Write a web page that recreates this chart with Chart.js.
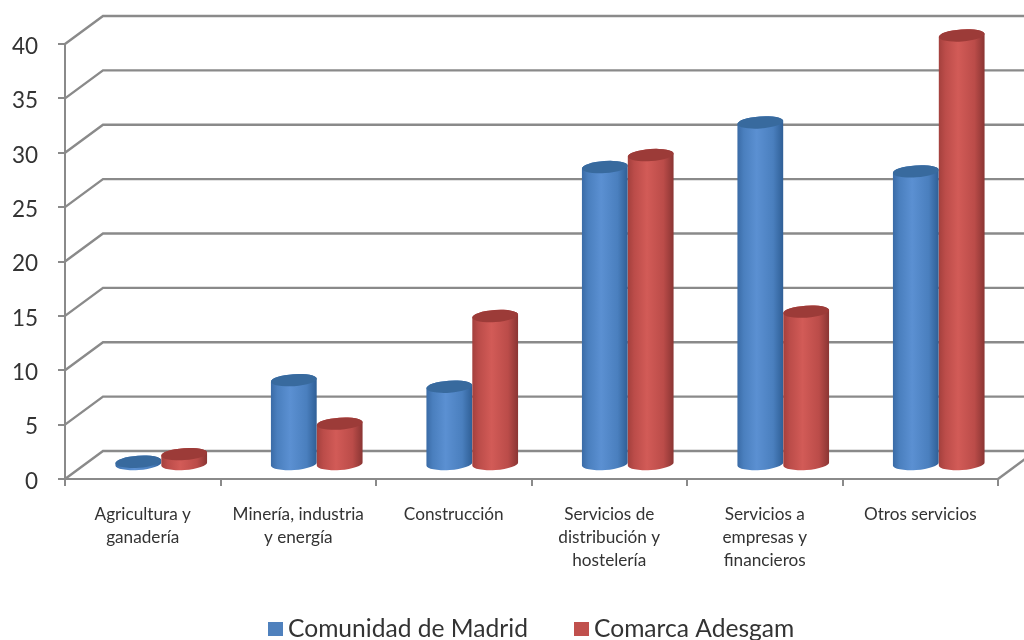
<!DOCTYPE html>
<html>
<head>
<meta charset="utf-8">
<style>
  html, body { margin: 0; padding: 0; background: #fff; }
  canvas { display: block; }
</style>
<script src="https://cdn.jsdelivr.net/npm/chart.js@4/dist/chart.umd.js"></script>
</head>
<body>
<canvas id="chart" width="1024" height="640"></canvas>
<script>
const categories = [
  ["Agricultura y", "ganadería"],
  ["Minería, industria", "y energía"],
  ["Construcción"],
  ["Servicios de", "distribución y", "hostelería"],
  ["Servicios a", "empresas y", "financieros"],
  ["Otros servicios"],
];
const madrid = [0.3, 7.8, 7.2, 27.4, 31.5, 27];
const adesgam = [1, 3.8, 13.7, 28.5, 14.1, 39.5];
const seriesNames = ["Comunidad de Madrid", "Comarca Adesgam"];
const yTicks = [0, 5, 10, 15, 20, 25, 30, 35, 40];

const GREY = "#8a8a8a";
const FONT = "Lato";

// offset of the back wall and of the plane the cylinders stand on
const wall = { dx: 38, dy: -28 };
const plane = { dx: 18.5, dy: -14 };

const colors = [
  { legend: "#4f81bd", edgeL: "#3a6ba6", edgeR: "#2f5f96", mid: "#4a7fbe", light: "#5b90d2", top: "#386a9e" },
  { legend: "#c0504d", edgeL: "#a3403d", edgeR: "#8a3533", mid: "#bb4c49", light: "#d25b57", top: "#9c3b38" },
];

// Back wall and side wall lines, as there is no real 3D in Chart.js
const wallsPlugin = {
  id: "walls",
  beforeDatasetsDraw(chart) {
    const { ctx, chartArea, scales } = chart;
    ctx.save();
    ctx.strokeStyle = GREY;
    ctx.lineWidth = 2.4;
    yTicks.forEach((v) => {
      const y = scales.y.getPixelForValue(v);
      ctx.beginPath();
      ctx.moveTo(chartArea.left, y);
      ctx.lineTo(chartArea.left + wall.dx, y + wall.dy);
      ctx.lineTo(chartArea.right + wall.dx, y + wall.dy);
      ctx.stroke();
    });
    const y0 = scales.y.getPixelForValue(0);
    ctx.beginPath();
    ctx.moveTo(chartArea.right, y0);
    ctx.lineTo(chartArea.right + wall.dx, y0 + wall.dy);
    ctx.stroke();
    ctx.restore();
  },
};

function drawCylinder(ctx, bar, c) {
  const a = bar.width / 2;
  const b = 6;
  const tilt = (-4 * Math.PI) / 180;
  const cx = bar.x + plane.dx;
  const top = bar.y + plane.dy;
  const bottom = bar.base + plane.dy;
  const g = ctx.createLinearGradient(cx - a, 0, cx + a, 0);
  g.addColorStop(0, c.edgeL);
  g.addColorStop(0.14, c.mid);
  g.addColorStop(0.42, c.light);
  g.addColorStop(0.78, c.mid);
  g.addColorStop(1, c.edgeR);

  ctx.fillStyle = g;
  ctx.beginPath();
  ctx.ellipse(cx, bottom, a, b, tilt, 0, Math.PI);
  ctx.ellipse(cx, top, a, b, tilt, Math.PI, 2 * Math.PI);
  ctx.closePath();
  ctx.fill();

  ctx.fillStyle = c.top;
  ctx.beginPath();
  ctx.ellipse(cx, top, a, b, tilt, 0, 2 * Math.PI);
  ctx.fill();
}

// Bars are replaced with cylinders, red on top of blue
const cylinderPlugin = {
  id: "cylinders",
  beforeDatasetDraw() {
    return false;
  },
  afterDatasetsDraw(chart) {
    const { ctx } = chart;
    ctx.save();
    chart.data.datasets.forEach((ds, i) => {
      chart.getDatasetMeta(i).data.forEach((bar) => {
        drawCylinder(ctx, bar.getProps(["x", "y", "base", "width"], true), colors[i]);
      });
    });
    ctx.restore();
  },
};

const legendPlugin = {
  id: "simpleLegend",
  afterDraw(chart) {
    const { ctx } = chart;
    const startX = [268, 574];
    ctx.save();
    ctx.font = "24.6px " + FONT;
    ctx.textBaseline = "middle";
    chart.data.datasets.forEach((ds, i) => {
      ctx.fillStyle = ds.backgroundColor;
      ctx.fillRect(startX[i], 622, 15, 14);
      ctx.fillStyle = "#333333";
      ctx.fillText(ds.label, startX[i] + 20, 629);
    });
    ctx.restore();
  },
};

new Chart(document.getElementById("chart"), {
  type: "bar",
  data: {
    labels: categories,
    datasets: [
      { label: seriesNames[0], data: madrid, backgroundColor: colors[0].legend },
      { label: seriesNames[1], data: adesgam, backgroundColor: colors[1].legend },
    ],
  },
  options: {
    responsive: false,
    animation: false,
    devicePixelRatio: 1,
    layout: { padding: { top: 44, right: 26, bottom: 0, left: 0 } },
    datasets: { bar: { categoryPercentage: 0.59, barPercentage: 1 } },
    plugins: { legend: { display: false }, tooltip: { enabled: false } },
    scales: {
      x: {
        afterFit(scale) {
          scale.height = 161;
        },
        border: { color: GREY, width: 2 },
        grid: { drawOnChartArea: false, color: GREY, lineWidth: 2, tickLength: 7 },
        ticks: {
          color: "#333333",
          padding: 17,
          maxRotation: 0,
          autoSkip: false,
          font: { family: FONT, size: 17.2, lineHeight: 1.337 },
        },
      },
      y: {
        min: 0,
        max: 40,
        afterFit(scale) {
          scale.width = 65;
        },
        afterBuildTicks(scale) {
          scale.ticks = yTicks.map((value) => ({ value }));
        },
        border: { color: GREY, width: 2 },
        grid: { drawOnChartArea: false, color: GREY, lineWidth: 2, tickLength: 7 },
        ticks: {
          color: "#333333",
          padding: 20,
          labelOffset: 2.5,
          font: { family: FONT, size: 22.5 },
        },
      },
    },
  },
  plugins: [wallsPlugin, cylinderPlugin, legendPlugin],
});
</script>
</body>
</html>
